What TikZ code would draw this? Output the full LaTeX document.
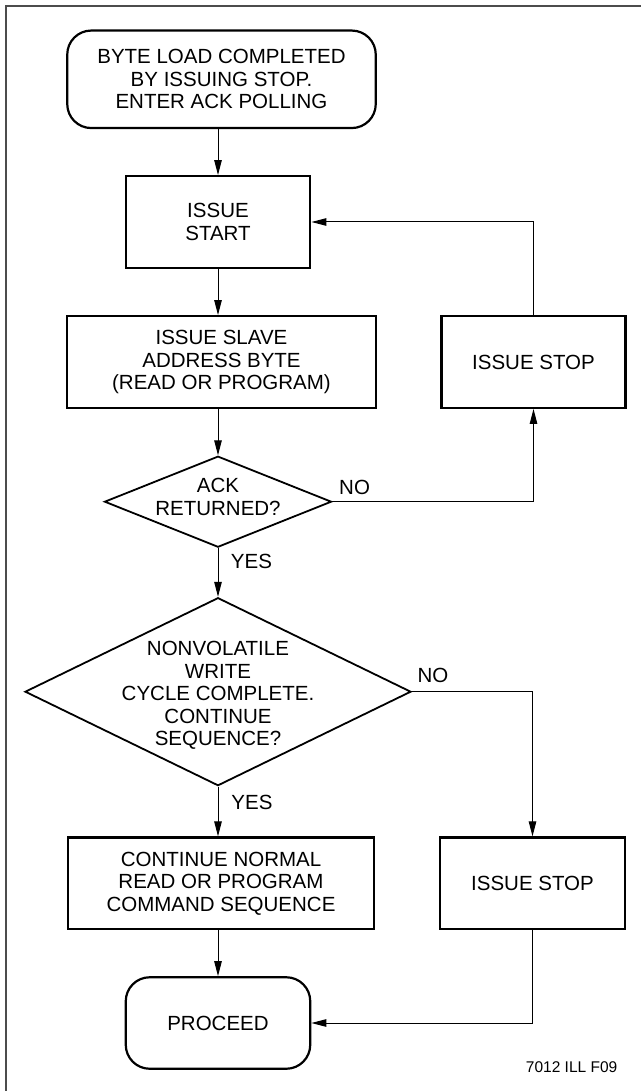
\documentclass[tikz,border=0pt]{standalone}
\usepackage{fontspec}
\setmainfont{Liberation Sans}
\usetikzlibrary{arrows.meta,shapes.geometric}
\begin{document}
\begin{tikzpicture}[x=1pt,y=-1pt,
  txt/.style={font=\fontsize{20.5}{22.5}\selectfont, align=center},
  box/.style={draw, line width=2.4pt, minimum width=184.5pt, minimum height=91.5pt, inner sep=0pt, txt},
  term/.style={box, rounded corners=24pt, line width=2.2pt},
  dia/.style={draw, diamond, line width=1.8pt, inner sep=0pt},
  conn/.style={line width=1pt},
  arr/.style={conn, -{Triangle[length=15pt,width=7.5pt]}},
  lbl/.style={font=\fontsize{20.5}{22.5}\selectfont, inner sep=0pt}]
\useasboundingbox (0,0) rectangle (641,1091);
\draw[line width=1.5pt, black!70] (6,1091) -- (6,6) -- (641,6);

\node[term, minimum width=308.5pt, minimum height=97.5pt] (start) at (221.5,79.3) {BYTE LOAD COMPLETED\\BY ISSUING STOP.\\ENTER ACK POLLING};
\node[box] (istart) at (218,222) {ISSUE\\START};
\node[box, minimum width=308.5pt] (slave) at (221.5,362) {ISSUE SLAVE\\ADDRESS BYTE\\(READ OR PROGRAM)};
\node[box, minimum width=184pt] (stop1) at (533.5,362) {ISSUE STOP};
\node[dia, minimum width=227pt, minimum height=91pt] (ack) at (218,501.7) {};
\node[txt, inner sep=0pt] (acktxt) at (218,497) {ACK\\RETURNED?};
\node[dia, minimum width=386pt, minimum height=188pt] (nv) at (218,691.7) {};
\node[txt, inner sep=0pt] (nvtxt) at (218,695.5) {NONVOLATILE\\WRITE\\CYCLE COMPLETE.\\CONTINUE\\SEQUENCE?};
\node[box, minimum width=306.5pt] (cont) at (221,883.3) {CONTINUE NORMAL\\READ OR PROGRAM\\COMMAND SEQUENCE};
\node[box] (stop2) at (532.5,883.3) {ISSUE STOP};
\node[term] (proceed) at (218,1023) {PROCEED};

\draw[arr] (start.south -| istart.north) -- (istart.north);
\draw[arr] (istart.south) -- (istart.south |- slave.north);
\draw[arr] (slave.south -| ack.north) -- (ack.north);
\draw[arr] (ack.south) -- (nv.north);
\draw[arr] (nv.south) -- (nv.south |- cont.north);
\draw[arr] (cont.south -| proceed.north) -- (proceed.north);
\draw[arr] (ack.east) -| (stop1.south);
\draw[arr] (stop1.north) |- (istart.east);
\draw[arr] (nv.east) -| (stop2.north);
\draw[arr] (stop2.south) |- (proceed.east);

\node[lbl] (no1) at (354.6,487) {NO};
\node[lbl] (yes1) at (251.5,561) {YES};
\node[lbl] (no2) at (433,675) {NO};
\node[lbl] (yes2) at (252,802) {YES};
\node[font=\fontsize{15.5}{18}\selectfont, anchor=east, inner sep=0pt] (fig) at (617.5,1066.7) {7012 ILL F09};
\end{tikzpicture}
\end{document}
